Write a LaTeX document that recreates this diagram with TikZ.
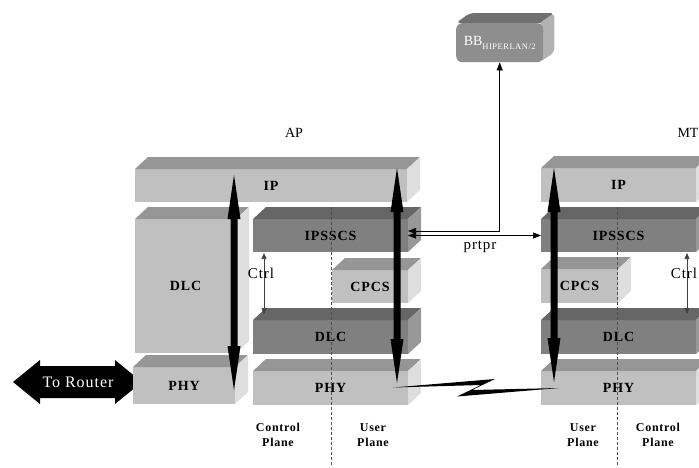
\documentclass[tikz,border=0pt]{standalone}
\usepackage{fontspec}
\setmainfont{Liberation Serif}
\newfontfamily\spacedfont{Liberation Serif}[LetterSpace=6]
\usetikzlibrary{arrows.meta,calc,backgrounds}

\definecolor{lightF}{RGB}{192,192,192}
\definecolor{lightT}{RGB}{150,150,150}
\definecolor{lightS}{RGB}{222,222,222}
\definecolor{darkF}{RGB}{128,128,128}
\definecolor{darkT}{RGB}{102,102,102}
\definecolor{darkS}{RGB}{152,152,152}
\definecolor{bbF}{RGB}{142,142,142}
\definecolor{bbT}{RGB}{112,112,112}
\definecolor{bbS}{RGB}{178,178,178}
\definecolor{dashgray}{RGB}{80,80,80}

\newcommand\blkfont{\spacedfont\fontsize{14}{14}\selectfont\bfseries}
\newcommand\planefont{\spacedfont\fontsize{12}{15}\selectfont\bfseries}
\newcommand\notefont{\spacedfont\fontsize{15}{15}\selectfont}

\tikzset{
  face/.style={anchor=north west, inner sep=0pt, outer sep=0pt, font=\blkfont},
  thinarr/.style={{Triangle[length=8pt,width=6pt]}-{Triangle[length=8pt,width=6pt]}, line width=0.7pt},
  ctrlarr/.style={{Triangle[length=6pt,width=5pt]}-{Triangle[length=6pt,width=5pt]}, line width=0.6pt, draw=black!75},
  planesep/.style={dashed, dash pattern=on 3pt off 2pt, line width=0.9pt, draw=dashgray},
  plane/.style={align=center, font=\planefont},
  note/.style={font=\notefont, inner sep=0pt},
}

% one protocol layer: front face (a named node) with its top and side faces
% #1 tone (light/dark), #2 name, #3 x1, #4 y1, #5 x2, #6 y2, #7 label
\newcommand\stacklayer[7]{%
  \node[face, fill=#1F, minimum width={(#5-#3)*1pt}, minimum height={(#6-#4)*1pt}] (#2) at (#3,#4) {#7};
  \fill[#1T] (#2.north west) -- ++(13,-12) -- ($(#2.north east)+(13,-12)$) -- (#2.north east) -- cycle;
  \fill[#1S] (#2.north east) -- ++(13,-12) -- ($(#2.south east)+(13,-12)$) -- (#2.south east) -- cycle;
}

% heavy vertical double arrow between two named points (#1 upper, #2 lower)
\newcommand\fatarrow[2]{%
  \fill (#1) -- ($(#1)+(6.5,44)$) -- ($(#1)+(3.5,44)$) -- ($(#2)+(3.5,-44)$) -- ($(#2)+(6.5,-44)$)
    -- (#2) -- ($(#2)+(-6.5,-44)$) -- ($(#2)+(-3.5,-44)$) -- ($(#1)+(-3.5,44)$) -- ($(#1)+(-6.5,44)$) -- cycle;
}

\begin{document}
\begin{tikzpicture}[x=1pt, y=-1pt]
\useasboundingbox (0,0) rectangle (699,467);

% ---------- AP stack ----------
\stacklayer{light}{apIP}{135}{169}{407}{202}{IP}
\stacklayer{light}{apDLCc}{135}{219}{236}{353}{DLC}
\stacklayer{light}{apPHYc}{133}{367}{235}{404}{PHY}
\stacklayer{dark}{apIPSSCS}{253}{219}{408}{252}{IPSSCS}
\stacklayer{light}{apCPCS}{332}{270}{408}{303}{CPCS}
\stacklayer{dark}{apDLC}{253}{320}{408}{354}{DLC}
\stacklayer{light}{apPHY}{253}{371}{408}{405}{PHY}

% ---------- MT stack ----------
\stacklayer{light}{mtIP}{541}{168}{696}{202}{IP}
\stacklayer{dark}{mtIPSSCS}{541}{219}{696}{252}{IPSSCS}
\stacklayer{light}{mtCPCS}{541}{269}{618}{303}{CPCS}
\stacklayer{dark}{mtDLC}{541}{320}{696}{354}{DLC}
\stacklayer{light}{mtPHY}{541}{371}{696}{405}{PHY}

% ---------- titles ----------
\node[font=\fontsize{14}{14}\selectfont] (apTitle) at (294,133) {AP};
\node[font=\fontsize{14}{14}\selectfont] (mtTitle) at (688,133) {MT};

% ---------- broadband box ----------
\node[anchor=north west, fill=bbF, rounded corners=6pt, minimum width=87pt, minimum height=39pt,
      inner sep=0pt, text=white] (bb) at (456,23)
  {\fontsize{14}{14}\selectfont BB\raisebox{-4pt}{\spacedfont\fontsize{8.5}{8.5}\selectfont HIPERLAN/2}};
\begin{pgfonlayer}{background}
  \fill[bbT, rounded corners=4pt] (bb.north west) -- ($(bb.north west)+(14,-10)$)
    -- ($(bb.north east)+(11,-10)$) -- (bb.north east) -- cycle;
  \fill[bbS, rounded corners=4pt] ($(bb.north east)+(-4,0)$) -- ($(bb.north east)+(11,-10)$)
    -- ($(bb.south east)+(11,-10)$) -- ($(bb.south east)+(-4,0)$) -- cycle;
\end{pgfonlayer}

% ---------- plane separators ----------
\coordinate (apSepTop) at (331,207);
\coordinate (apSepBot) at (331,467);
\coordinate (mtSepTop) at (617,207);
\coordinate (mtSepBot) at (617,467);
\draw[planesep] (apSepTop) -- (apSepBot);
\draw[planesep] (mtSepTop) -- (mtSepBot);

% ---------- heavy data-path arrows ----------
\coordinate (apA1) at (234,175); \coordinate (apA2) at (234,390);
\coordinate (apB1) at (397,168); \coordinate (apB2) at (397,383);
\coordinate (mtA1) at (554,168); \coordinate (mtA2) at (554,382);
\fatarrow{apA1}{apA2}
\fatarrow{apB1}{apB2}
\fatarrow{mtA1}{mtA2}

% ---------- control arrows ----------
\coordinate (apCtrlTop) at (264,253); \coordinate (apCtrlBot) at (264,314);
\coordinate (mtCtrlTop) at (687,253); \coordinate (mtCtrlBot) at (687,314);
\draw[ctrlarr] (apCtrlTop) -- (apCtrlBot);
\draw[ctrlarr] (mtCtrlTop) -- (mtCtrlBot);
\node[note] (apCtrl) at (261,273) {Ctrl};
\node[note] (mtCtrl) at (684,273) {Ctrl};

% ---------- peer links ----------
\draw[thinarr] (bb.south) |- ([yshift=4.5pt]apIPSSCS.east);
\draw[thinarr] (apIPSSCS.east) -- (mtIPSSCS.west);
\node[note] (prtpr) at (480,247) {prtpr};

% ---------- radio link ----------
\coordinate (radioA) at (393,387.5);
\coordinate (radioB) at (559,388);
\fill (radioA) -- (495,379) -- (472,390) -- (radioB) -- (457,396.5) -- (481,385) -- cycle;

% ---------- router link: white label on a black double arrow ----------
\node[font=\spacedfont\fontsize{16}{16}\selectfont, text=white, inner sep=0pt] (router) at (78,382) {To Router};
\begin{pgfonlayer}{background}
  \fill ($(router)+(-65,0)$) -- ++(27,-22) -- ++(0,6) -- ++(75,0) -- ++(0,-6) -- ($(router)+(64,0)$)
    -- ++(-27,22) -- ++(0,-6) -- ++(-75,0) -- ++(0,6) -- cycle;
\end{pgfonlayer}

% ---------- plane captions ----------
\node[plane] (apCP) at (278,435) {Control\\Plane};
\node[plane] (apUP) at (373,435) {User\\Plane};
\node[plane] (mtUP) at (583,435) {User\\Plane};
\node[plane] (mtCP) at (658,435) {Control\\Plane};
\end{tikzpicture}
\end{document}
